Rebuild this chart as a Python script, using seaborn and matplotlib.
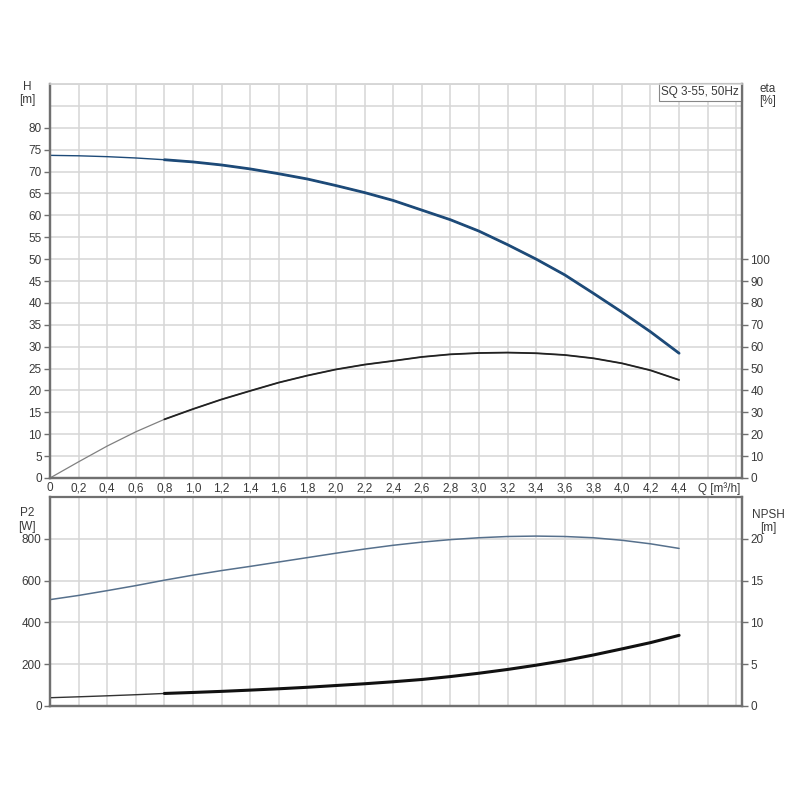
import numpy as np
import pandas as pd
import seaborn as sns
import matplotlib.pyplot as plt

# ----- curve data (SQ 3-55, 50Hz) -----
q = [0.0, 0.2, 0.4, 0.6, 0.8, 1.0, 1.2, 1.4, 1.6, 1.8, 2.0, 2.2,
     2.4, 2.6, 2.8, 3.0, 3.2, 3.4, 3.6, 3.8, 4.0, 4.2, 4.4]
head = [73.7, 73.6, 73.4, 73.1, 72.7, 72.2, 71.5, 70.6, 69.5, 68.3, 66.8, 65.2,
        63.4, 61.2, 59.0, 56.4, 53.3, 50.0, 46.4, 42.2, 37.9, 33.4, 28.5]
eta = [0.0, 7.4, 14.6, 21.1, 26.8, 31.5, 35.9, 39.8, 43.6, 46.8, 49.6, 51.8,
       53.5, 55.3, 56.5, 57.1, 57.3, 57.0, 56.2, 54.7, 52.4, 49.2, 44.8]
p2 = [509, 529, 552, 576, 602, 626, 648, 668, 689, 710, 731, 751,
      769, 784, 796, 805, 811, 813, 811, 805, 793, 776, 754]
npsh = [0.99, 1.1, 1.22, 1.35, 1.5, 1.62, 1.75, 1.9, 2.06, 2.24, 2.45, 2.66,
        2.9, 3.17, 3.52, 3.92, 4.37, 4.88, 5.44, 6.1, 6.83, 7.58, 8.45]

x_ticks = [round(0.2 * i, 1) for i in range(25)]
x_labels = ["0"] + [f"{v:.1f}".replace(".", ",") for v in x_ticks[1:23]] + ["", ""]
eta_ticks = list(range(0, 110, 10))
p2_ticks = [0, 200, 400, 600, 800]
npsh_ticks = [0, 5, 10, 15, 20]

df = pd.DataFrame({"Q": q, "H": head, "eta": eta, "P2": p2, "NPSH": npsh})
strong = df[df["Q"] >= 0.8]

sns.set_theme(style="whitegrid")
plt.rcParams["font.family"] = ["Liberation Sans", "DejaVu Sans"]
plt.rcParams["font.size"] = 8.5

fig = plt.figure(figsize=(8, 8), dpi=100)
ax_top = fig.add_axes([0.0625, 0.4025, 0.865, 0.4925])
ax_bot = fig.add_axes([0.0625, 0.1175, 0.865, 0.26125])
ax_eta = ax_top.twinx()
ax_npsh = ax_bot.twinx()

grid_col = "#d6d6d6"
spine_col = "#707070"
text_col = "#3a3a3a"
dark_blue = "#1d4a78"
p2_blue = "#56708c"
fs = 8.5

for ax in (ax_top, ax_bot):
    ax.set_facecolor("white")
    ax.set_xlim(0, 4.84)
    ax.set_xticks(x_ticks)
    ax.grid(True, color=grid_col, linewidth=1.1)
    ax.set_axisbelow(True)
    ax.tick_params(axis="y", which="major", direction="out", length=4, width=1,
                   color=spine_col, labelsize=fs, labelcolor=text_col, pad=2, left=True)
    ax.tick_params(axis="x", length=0, labelsize=fs, labelcolor=text_col, pad=3)

for ax in (ax_eta, ax_npsh):
    ax.grid(False)
    ax.tick_params(axis="y", direction="out", length=4, width=1,
                   color=spine_col, labelsize=fs, labelcolor=text_col, pad=2, right=True)

# ----- top panel: head and efficiency -----
sns.lineplot(data=df, x="Q", y="H", ax=ax_top, color=dark_blue, linewidth=1.0)
sns.lineplot(data=strong, x="Q", y="H", ax=ax_top, color=dark_blue, linewidth=2.0)
ax_top.set_ylim(0, 90)
ax_top.set_yticks(list(range(0, 95, 5)))
ax_top.set_yticklabels([str(v) if v <= 80 else "" for v in range(0, 95, 5)])
ax_top.set_xticklabels(x_labels)
ax_top.set_xlabel("")
ax_top.set_ylabel("")

sns.lineplot(data=df, x="Q", y="eta", ax=ax_eta, color="#808080", linewidth=0.9)
sns.lineplot(data=strong, x="Q", y="eta", ax=ax_eta, color="#222222", linewidth=1.3)
ax_eta.set_ylim(0, 180)
ax_eta.set_yticks(eta_ticks)
ax_eta.set_ylabel("")
ax_eta.set_xlim(0, 4.84)

# ----- bottom panel: power and NPSH -----
sns.lineplot(data=df, x="Q", y="P2", ax=ax_bot, color=p2_blue, linewidth=1.1)
ax_bot.set_ylim(0, 1000)
ax_bot.set_yticks([0, 200, 400, 600, 800, 1000])
ax_bot.set_yticklabels([str(v) for v in p2_ticks] + [""])
ax_bot.set_xticklabels([])
ax_bot.set_xlabel("")
ax_bot.set_ylabel("")

sns.lineplot(data=df, x="Q", y="NPSH", ax=ax_npsh, color="#333333", linewidth=1.0)
sns.lineplot(data=strong, x="Q", y="NPSH", ax=ax_npsh, color="#111111", linewidth=2.2)
ax_npsh.set_ylim(0, 25)
ax_npsh.set_yticks(npsh_ticks)
ax_npsh.set_ylabel("")
ax_npsh.set_xlim(0, 4.84)

# no tick marks on grid-only rows above the labelled range
for t in ax_top.yaxis.get_major_ticks()[17:]:
    t.tick1line.set_visible(False)
ax_bot.yaxis.get_major_ticks()[-1].tick1line.set_visible(False)

# spines
for ax in (ax_top, ax_bot, ax_eta, ax_npsh):
    for side in ("left", "right", "bottom"):
        ax.spines[side].set_color(spine_col)
        ax.spines[side].set_linewidth(1.6)
    ax.spines["top"].set_color(grid_col)
    ax.spines["top"].set_linewidth(1.1)
ax_bot.spines["top"].set_color(spine_col)
ax_npsh.spines["top"].set_color(spine_col)
ax_npsh.spines["top"].set_linewidth(1.6)

for ax in (ax_top, ax_bot, ax_eta, ax_npsh):
    lg = ax.get_legend()
    if lg is not None:
        lg.remove()

# axis captions
fig.text(0.034, 0.888, "H", ha="center", fontsize=fs, color=text_col)
fig.text(0.034, 0.871, "[m]", ha="center", fontsize=fs, color=text_col)
fig.text(0.960, 0.885, "eta", ha="center", fontsize=fs, color=text_col)
fig.text(0.960, 0.870, "[%]", ha="center", fontsize=fs, color=text_col)
fig.text(0.034, 0.355, "P2", ha="center", fontsize=fs, color=text_col)
fig.text(0.034, 0.337, "[W]", ha="center", fontsize=fs, color=text_col)
fig.text(0.960, 0.353, "NPSH", ha="center", fontsize=fs, color=text_col)
fig.text(0.960, 0.336, "[m]", ha="center", fontsize=fs, color=text_col)
ax_top.text(4.83, -0.9, "Q [m³/h]", ha="right", va="top", fontsize=fs,
            color=text_col, transform=ax_top.transData)

ax_top.text(0.996, 0.994, "SQ 3-55, 50Hz", transform=ax_top.transAxes,
            ha="right", va="top", fontsize=fs, color=text_col, zorder=5,
            bbox=dict(boxstyle="square,pad=0.25", facecolor="white",
                      edgecolor="#888888", linewidth=0.8))

fig.savefig("out.png", dpi=100, facecolor="white")
